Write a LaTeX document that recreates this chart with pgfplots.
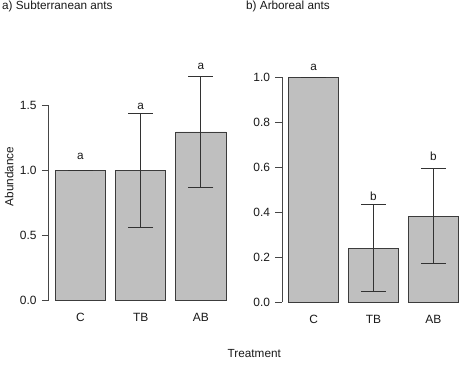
\documentclass[border=0pt]{standalone}
\usepackage{fontspec}
\setmainfont{Liberation Sans}
\usepackage{pgfplots}
\pgfplotsset{compat=1.18}
\definecolor{barfill}{RGB}{191,191,191}
\definecolor{baredge}{RGB}{60,60,60}
\definecolor{errcol}{RGB}{50,50,50}
\definecolor{axcol}{RGB}{70,70,70}
\definecolor{txt}{RGB}{25,25,25}
\begin{document}
\fontsize{11.8}{14}\selectfont
\begin{tikzpicture}
\useasboundingbox (0bp,0bp) rectangle (460bp,367bp);
\pgfplotsset{
  rbar/.style={
    scale only axis, anchor=south west, clip=false,
    xmin=0.064, xmax=3.736, ymin=0,
    ybar, bar width=1,
    axis y line*=left, axis x line*=bottom,
    x axis line style={draw=none},
    y axis line style={draw=axcol, line width=0.8bp},
    xtick={0.7,1.9,3.1}, xticklabels={C,TB,AB},
    xtick style={draw=none},
    ytick style={draw=axcol, line width=0.8bp},
    tick align=outside, major tick length=6.5bp,
    /pgf/number format/assume math mode=true,
    tick label style={font=\fontsize{12}{14}\selectfont, text=txt},
    yticklabel style={xshift=-1.3bp, /pgf/number format/.cd, fixed, fixed zerofill, precision=1},
    xticklabel style={anchor=base, yshift=-14.5bp},
  },
}
% Left panel
\begin{axis}[rbar, at={(48.5bp,66.3bp)}, width=184.3bp, height=195.6bp,
  ymax=1.5, ytick={0,0.5,1,1.5}]
\addplot[fill=barfill, draw=baredge, line width=0.7bp,
  error bars/.cd, y dir=both, y explicit, error mark=|,
  error bar style={draw=errcol, line width=0.8bp},
  error mark options={draw=errcol, line width=0.8bp, mark size=12.4bp}]
  coordinates {(0.7,1.0) +- (0,0) (1.9,1.0) +- (0,0.437) (3.1,1.294) +- (0,0.428)};
\node[anchor=base, text=txt] at (axis cs:0.7,1.084) {a};
\node[anchor=base, text=txt] at (axis cs:1.9,1.47) {a};
\node[anchor=base, text=txt] at (axis cs:3.1,1.775) {a};
\end{axis}
% Right panel
\begin{axis}[rbar, at={(281.9bp,65bp)}, width=183.2bp, height=224.5bp,
  ymax=1.0, ytick={0,0.2,0.4,0.6,0.8,1.0}]
\addplot[fill=barfill, draw=baredge, line width=0.7bp,
  error bars/.cd, y dir=both, y explicit, error mark=|,
  error bar style={draw=errcol, line width=0.8bp},
  error mark options={draw=errcol, line width=0.8bp, mark size=12.4bp}]
  coordinates {(0.7,1.0) +- (0,0) (1.9,0.239) +- (0,0.194) (3.1,0.382) +- (0,0.212)};
\node[anchor=base, text=txt] at (axis cs:0.7,1.033) {a};
\node[anchor=base, text=txt] at (axis cs:1.9,0.45) {b};
\node[anchor=base, text=txt] at (axis cs:3.1,0.629) {b};
\end{axis}
% Titles and axis labels
\node[anchor=base west, text=txt, inner sep=0] at (2bp,357bp) {a) Subterranean ants};
\node[anchor=base west, text=txt, inner sep=0] at (246bp,357bp) {b) Arboreal ants};
\node[anchor=base, text=txt, inner sep=0] at (254.3bp,9.3bp) {Treatment};
\node[anchor=base, rotate=90, text=txt, inner sep=0] at (13.3bp,190.5bp) {Abundance};
\end{tikzpicture}
\end{document}
